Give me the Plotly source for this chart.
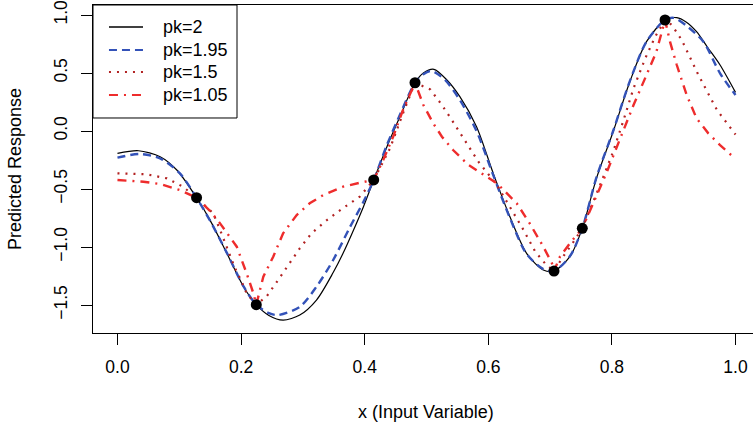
import plotly.graph_objects as go

# Observed data points
obs_x = [0.128, 0.2246, 0.4146, 0.4814, 0.7063, 0.7521, 0.886]
obs_y = [-0.575, -1.497, -0.422, 0.416, -1.207, -0.839, 0.957]

# pk = 2
pk2_x = [0.000, 0.034, 0.069, 0.096, 0.128, 0.150, 0.177, 0.204, 0.2246, 0.245, 0.268, 0.295,
         0.322, 0.349, 0.365, 0.382, 0.398, 0.4146, 0.436, 0.457, 0.4814, 0.495, 0.512, 0.533,
         0.554, 0.581, 0.608, 0.635, 0.662, 0.689, 0.7063, 0.732, 0.7521, 0.775, 0.802, 0.829,
         0.856, 0.886, 0.905, 0.920, 0.937, 0.955, 0.975, 1.000]
pk2_y = [-0.192, -0.170, -0.221, -0.336, -0.575, -0.770, -1.054, -1.342, -1.497, -1.590, -1.630, -1.586,
         -1.457, -1.220, -1.054, -0.853, -0.652, -0.422, -0.135, 0.123, 0.416, 0.500, 0.532, 0.440,
         0.296, 0.037, -0.365, -0.739, -1.054, -1.198, -1.207, -1.083, -0.839, -0.408, -0.006, 0.425,
         0.770, 0.957, 0.977, 0.940, 0.856, 0.720, 0.569, 0.333]

# pk = 1.95
pk195_x = [0.000, 0.036, 0.069, 0.101, 0.128, 0.150, 0.177, 0.204, 0.2246, 0.245, 0.260, 0.295,
           0.322, 0.349, 0.376, 0.398, 0.4146, 0.436, 0.457, 0.4814, 0.495, 0.508, 0.530, 0.554,
           0.581, 0.608, 0.635, 0.662, 0.689, 0.7063, 0.732, 0.7521, 0.775, 0.802, 0.829, 0.856,
           0.886, 0.900, 0.920, 0.948, 0.975, 1.000]
pk195_y = [-0.230, -0.198, -0.236, -0.365, -0.575, -0.775, -1.050, -1.340, -1.497, -1.570, -1.586, -1.515,
           -1.342, -1.112, -0.830, -0.610, -0.422, -0.120, 0.140, 0.416, 0.490, 0.517, 0.440, 0.267,
           0.000, -0.380, -0.750, -1.060, -1.190, -1.207, -1.080, -0.839, -0.400, 0.000, 0.430, 0.770,
           0.957, 0.975, 0.910, 0.770, 0.497, 0.310]

# pk = 1.5
pk15_x = [0.000, 0.047, 0.080, 0.106, 0.128, 0.155, 0.166, 0.174, 0.182, 0.190, 0.201, 0.209, 0.2246,
          0.241, 0.260, 0.295, 0.314, 0.339, 0.363, 0.392, 0.4146, 0.441, 0.462, 0.4814, 0.506,
          0.525, 0.541, 0.560, 0.584, 0.614, 0.635, 0.657, 0.676, 0.694, 0.7063, 0.721, 0.738,
          0.7521, 0.783, 0.802, 0.818, 0.835, 0.854, 0.870, 0.886, 0.897, 0.913, 0.940, 0.970, 1.000]
pk15_y = [-0.365, -0.373, -0.408, -0.480, -0.575, -0.710, -0.853, -0.968, -1.083, -1.180, -1.300, -1.400, -1.497,
          -1.428, -1.284, -1.011, -0.882, -0.767, -0.672, -0.566, -0.422, -0.149, 0.153, 0.416, 0.359,
          0.224, 0.095, -0.063, -0.264, -0.466, -0.652, -0.853, -1.040, -1.155, -1.207, -1.083, -0.954,
          -0.839, -0.437, -0.178, 0.080, 0.368, 0.627, 0.813, 0.957, 0.914, 0.784, 0.483, 0.181, -0.030]

# pk = 1.05
pk105_x = [0.000, 0.042, 0.069, 0.101, 0.128, 0.150, 0.166, 0.193, 0.209, 0.220, 0.2246, 0.236,
           0.252, 0.268, 0.290, 0.311, 0.333, 0.365, 0.392, 0.4146, 0.430, 0.446, 0.462, 0.4814,
           0.495, 0.511, 0.525, 0.543, 0.568, 0.589, 0.614, 0.646, 0.667, 0.689, 0.703, 0.7063,
           0.716, 0.732, 0.7521, 0.792, 0.813, 0.835, 0.856, 0.872, 0.886, 0.894, 0.905, 0.921,
           0.937, 0.956, 0.975, 1.000]
pk105_y = [-0.422, -0.437, -0.457, -0.509, -0.575, -0.690, -0.796, -0.997, -1.227, -1.400, -1.497, -1.256,
           -1.083, -0.882, -0.724, -0.623, -0.552, -0.480, -0.446, -0.422, -0.250, -0.049, 0.181, 0.416,
           0.224, 0.066, -0.049, -0.164, -0.293, -0.365, -0.451, -0.623, -0.796, -0.997, -1.140, -1.207,
           -1.083, -0.968, -0.839, -0.351, -0.063, 0.224, 0.483, 0.684, 0.957, 0.770, 0.569, 0.310,
           0.109, -0.020, -0.121, -0.241]

x_ticks = [0.0, 0.2, 0.4, 0.6, 0.8, 1.0]
x_tick_text = ["0.0", "0.2", "0.4", "0.6", "0.8", "1.0"]
y_ticks = [-1.5, -1.0, -0.5, 0.0, 0.5, 1.0]
y_tick_text = ["\u22121.5", "\u22121.0", "\u22120.5", "0.0", "0.5", "1.0"]

legend_labels = ["pk=2", "pk=1.95", "pk=1.5", "pk=1.05"]

FONT = "Liberation Sans, Arial, Helvetica, sans-serif"

styles = [
    dict(color="black", width=1.2, dash="solid"),
    dict(color="#3352B8", width=2.4, dash="8px,5px"),
    dict(color="#B22222", width=2.2, dash="2px,6px"),
    dict(color="#EE2C2C", width=2.4, dash="9px,6px,2px,6px"),
]
legend_widths = [1.3, 2.0, 1.8, 2.0]

fig = go.Figure()
fig.add_trace(go.Scatter(x=pk2_x, y=pk2_y, mode="lines", name=legend_labels[0],
                         line=dict(**styles[0], shape="spline", smoothing=0.8)))
fig.add_trace(go.Scatter(x=pk195_x, y=pk195_y, mode="lines", name=legend_labels[1],
                         line=dict(**styles[1], shape="spline", smoothing=0.8)))
fig.add_trace(go.Scatter(x=pk15_x, y=pk15_y, mode="lines", name=legend_labels[2],
                         line=dict(**styles[2])))
fig.add_trace(go.Scatter(x=pk105_x, y=pk105_y, mode="lines", name=legend_labels[3],
                         line=dict(**styles[3])))
fig.add_trace(go.Scatter(x=obs_x, y=obs_y, mode="markers", showlegend=False,
                         marker=dict(color="black", size=11)))

# Manual legend (box, line samples, labels) in paper coordinates
shapes = [dict(type="rect", xref="paper", yref="paper", x0=0, x1=0.2182, y0=0.6555, y1=1.0,
               fillcolor="white", line=dict(color="black", width=1), layer="above")]
annotations = []
row_y = [0.9329, 0.8628, 0.7957, 0.7256]
for lab, st, lw, ry in zip(legend_labels, styles, legend_widths, row_y):
    shapes.append(dict(type="line", xref="paper", yref="paper", x0=0.0242, x1=0.0758, y0=ry, y1=ry,
                       line=dict(color=st["color"], width=lw, dash=st["dash"]),
                       layer="above"))
    annotations.append(dict(text=lab, xref="paper", yref="paper", x=0.103, y=ry,
                            xanchor="left", yanchor="middle", showarrow=False, font=dict(size=18)))

annotations += [
    dict(text="x (Input Variable)", xref="paper", yref="paper", x=0.505, y=-0.241,
         xanchor="center", yanchor="middle", showarrow=False, font=dict(size=18)),
    dict(text="Predicted Response", xref="paper", yref="paper", x=-0.118, y=0.5,
         xanchor="center", yanchor="middle", showarrow=False, textangle=-90, font=dict(size=18)),
]

fig.update_layout(
    width=753, height=427,
    margin=dict(l=93, r=0, t=5, b=94),
    paper_bgcolor="white", plot_bgcolor="white",
    font=dict(family=FONT, size=17, color="black"),
    showlegend=False,
    xaxis=dict(range=[-0.0396, 1.0283], tickvals=x_ticks, ticktext=x_tick_text,
               showline=True, linecolor="black", linewidth=1, mirror=True,
               ticks="outside", ticklen=11, tickcolor="black", showgrid=False, zeroline=False,
               ticklabelstandoff=7, tickfont=dict(size=17.5), ticklabeloverflow="allow"),
    yaxis=dict(range=[-1.741, 1.0862], tickvals=y_ticks, ticktext=y_tick_text,
               showline=True, linecolor="black", linewidth=1, mirror=False,
               ticks="outside", ticklen=11, tickcolor="black", showgrid=False, zeroline=False,
               tickangle=-90, ticklabelstandoff=7, tickfont=dict(size=17.5),
               ticklabeloverflow="allow"),
    shapes=shapes,
    annotations=annotations,
)

fig.write_html("out.html")
